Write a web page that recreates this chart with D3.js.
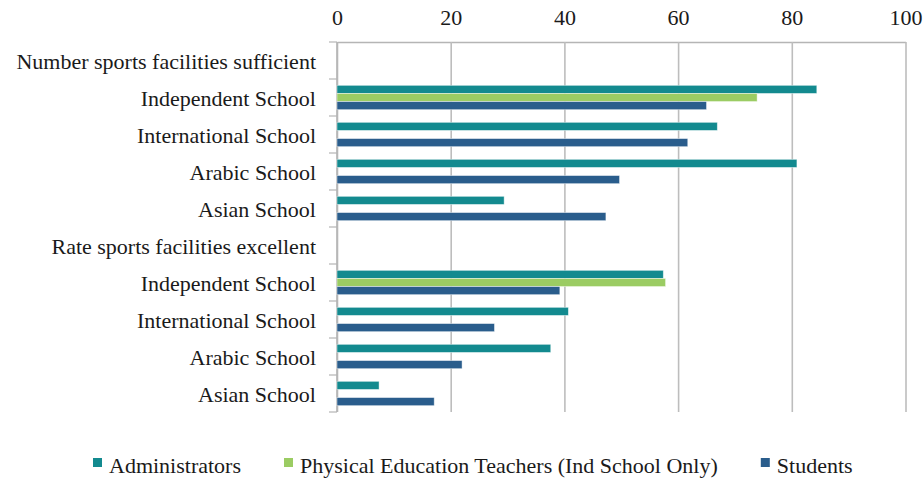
<!DOCTYPE html>
<meta charset="utf-8" />
<style>
  body { margin: 0; background: #fff; }
</style>
<body>
  <div id="chart"></div>
  <script src="https://d3js.org/d3.v7.min.js"></script>
  <script>
    // categories, top to bottom
    var categories = [
      "Number sports facilities sufficient",
      "Independent School",
      "International School",
      "Arabic School",
      "Asian School",
      "Rate sports facilities excellent",
      "Independent School",
      "International School",
      "Arabic School",
      "Asian School"
    ];
    var seriesNames = [
      "Administrators",
      "Physical Education Teachers (Ind School Only)",
      "Students"
    ];
    var administrators = [null, 84.4, 66.9, 80.9, 29.4, null, 57.4, 40.7, 37.6, 7.4];
    var peTeachers = [null, 73.9, null, null, null, null, 57.8, null, null, null];
    var students = [null, 65.0, 61.7, 49.7, 47.3, null, 39.2, 27.7, 22.0, 17.1];
    var xTicks = [0, 20, 40, 60, 80, 100];
    var colors = ["#138a8f", "#9bcc63", "#2a5d8c"];

    var FONT = "'Liberation Serif', 'Times New Roman', serif";

    var margin = { top: 42, right: 18.5, bottom: 68, left: 337 },
      width = 924 - margin.left - margin.right,
      height = 480 - margin.top - margin.bottom;

    var svg = d3
      .select("#chart")
      .append("svg")
      .attr("width", 924)
      .attr("height", 480);
    var g = svg
      .append("g")
      .attr("transform", "translate(" + margin.left + "," + margin.top + ")");

    var x = d3.scaleLinear().domain([0, 100]).range([0, width]);
    var y = d3
      .scaleBand()
      .domain(d3.range(categories.length))
      .range([0, height]);
    var ySub = d3
      .scaleBand()
      .domain(d3.range(seriesNames.length))
      .range([0, y.bandwidth()])
      .paddingOuter(0.78);

    // top axis + vertical gridlines
    var xAxis = g
      .append("g")
      .call(
        d3.axisTop(x)
          .tickValues(xTicks)
          .tickSize(-height)
          .tickSizeOuter(0)
          .tickPadding(17)
      );
    xAxis.attr("font-family", null).attr("font-size", null);
    xAxis.selectAll("line").attr("stroke", "#bdbdbd").attr("stroke-width", 1.6);
    xAxis.select(".domain").attr("stroke", "#b5b5b5").attr("stroke-width", 1.6);
    xAxis
      .selectAll("text")
      .style("font-family", FONT)
      .style("font-size", "22px")
      .attr("fill", "#1a1a1a");

    // left axis: line and ticks at category boundaries
    var leftAxis = g.append("g");
    leftAxis
      .append("line")
      .attr("x1", 0)
      .attr("x2", 0)
      .attr("y1", 0)
      .attr("y2", height)
      .attr("stroke", "#b5b5b5")
      .attr("stroke-width", 1.6);
    leftAxis
      .selectAll(".tk")
      .data(d3.range(categories.length + 1))
      .enter()
      .append("line")
      .attr("x1", -8)
      .attr("x2", 0)
      .attr("y1", function(d) { return d * y.step(); })
      .attr("y2", function(d) { return d * y.step(); })
      .attr("stroke", "#b5b5b5")
      .attr("stroke-width", 1.2);

    leftAxis
      .selectAll(".lbl")
      .data(categories)
      .enter()
      .append("text")
      .attr("x", -21)
      .attr("y", function(d, i) { return y(i) + y.bandwidth() / 2; })
      .attr("dy", "0.4em")
      .attr("text-anchor", "end")
      .attr("fill", "#1a1a1a")
      .style("font-family", FONT)
      .style("font-size", "22px")
      .text(function(d) { return d; });

    // bars
    var allSeries = [administrators, peTeachers, students];
    allSeries.forEach(function(values, s) {
      g.append("g")
        .selectAll("rect")
        .data(values.map(function(v, i) { return { i: i, v: v }; }).filter(function(d) { return d.v != null; }))
        .enter()
        .append("rect")
        .attr("x", x(0))
        .attr("y", function(d) { return y(d.i) + ySub(s); })
        .attr("width", function(d) { return x(d.v) - x(0); })
        .attr("height", ySub.bandwidth())
        .attr("fill", colors[s])
        .attr("stroke", "#ffffff")
        .attr("stroke-opacity", 0.55)
        .attr("stroke-width", 0.8);
    });

    // legend
    var legend = svg.append("g").attr("transform", "translate(93,0)");
    var lx = 0;
    seriesNames.forEach(function(name, s) {
      var item = legend.append("g").attr("transform", "translate(" + lx + ",0)");
      item
        .append("rect")
        .attr("x", 0)
        .attr("y", 458)
        .attr("width", 9)
        .attr("height", 9)
        .attr("fill", colors[s]);
      var t = item
        .append("text")
        .attr("x", 16)
        .attr("y", 473)
        .attr("fill", "#1a1a1a")
        .style("font-family", FONT)
        .style("font-size", "22px")
        .text(name);
      lx += 16 + t.node().getComputedTextLength() + 43;
    });
  </script>
</body>
